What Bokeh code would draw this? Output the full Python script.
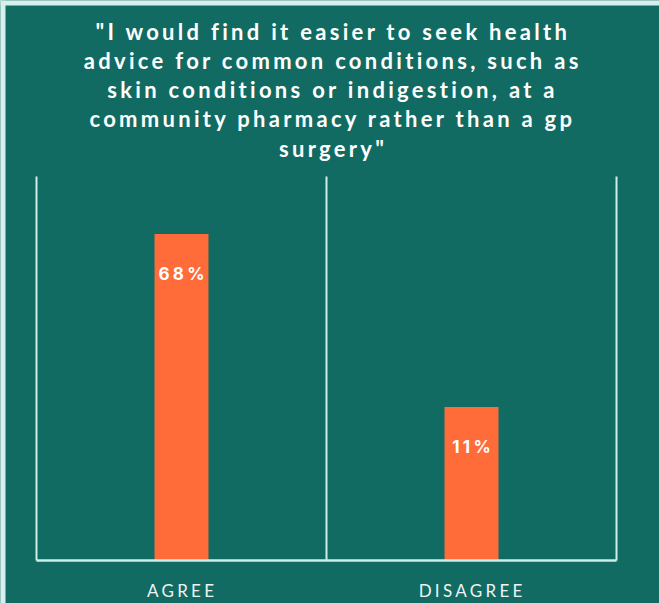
from bokeh.plotting import figure
from bokeh.models import Range1d, LabelSet, ColumnDataSource, BoxAnnotation
from bokeh.core.properties import value
from bokeh.embed import file_html
from bokeh.resources import INLINE

# ---- data ----
title_lines = [
    '"I would find it easier to seek health',
    'advice for common conditions, such as',
    'skin conditions or indigestion, at a',
    'community pharmacy rather than a gp',
    'surgery"',
]
categories = ["AGREE", "DISAGREE"]
bar_heights = [68, 32]
bar_labels = ["68%", "11%"]

# ---- style / layout ----
BG = "#116b62"
BAR = "#ff6c3a"
LINE = "#cdeee9"
EDGE = "#d6f1ed"
TXT = "#ffffff"
W, H = 659, 603
PLOT_L, PLOT_R, PLOT_T, PLOT_B = 36, 616, 176, 560   # plotting box, px
Y_MAX = 80
SP = 3.3                                              # letter spacing, px

n = len(categories)
px_x = (PLOT_R - PLOT_L) / n
px_y = (PLOT_B - PLOT_T) / Y_MAX
x_range = Range1d(-PLOT_L / px_x, n + (W - PLOT_R) / px_x)
y_range = Range1d(-(H - PLOT_B) / px_y, Y_MAX + PLOT_T / px_y)

p = figure(x_range=x_range, y_range=y_range,
           frame_width=W, frame_height=H, min_border=0,
           output_backend="svg", toolbar_location=None,
           background_fill_color=BG, border_fill_color=BG,
           outline_line_color=None)
p.styles = {"letter-spacing": f"{SP}px"}
p.xaxis.visible = False
p.yaxis.visible = False
p.xgrid.visible = False
p.ygrid.visible = False

# light page edge (left / top)
p.add_layout(BoxAnnotation(right=x_range.start + 5 / px_x, fill_color=EDGE,
                           fill_alpha=1, line_color=None))
p.add_layout(BoxAnnotation(bottom=y_range.end - 5 / px_y, fill_color=EDGE,
                           fill_alpha=1, line_color=None))

xs = [i + 0.5 for i in range(n)]
comp = lambda s: -(len(s) - 1) * SP / 2   # centre letter-spaced text

src = ColumnDataSource(dict(x=xs, cat=categories, h=bar_heights,
                            lab=bar_labels,
                            lab_dx=[comp(s) for s in bar_labels],
                            cat_dx=[comp(s) - 1 for s in categories]))

p.vbar(x="x", top="h", bottom=0, width=0.186, source=src,
       fill_color=BAR, line_color=None)

# vertical separators and baseline
bounds = list(range(n + 1))
p.segment(x0=bounds, x1=bounds, y0=[0] * len(bounds), y1=[Y_MAX] * len(bounds),
          line_color=LINE, line_width=2)
p.segment(x0=[0], x1=[n], y0=[0], y1=[0], line_color=LINE, line_width=2.5)

# value labels
p.add_layout(LabelSet(x="x", y="h", text="lab", source=src,
                      x_offset="lab_dx", y_offset=-46, text_align="center",
                      text_baseline="alphabetic", text_color=TXT,
                      text_font=value("Inter"), text_font_style="bold",
                      text_font_size="17px"))

# category labels
p.add_layout(LabelSet(x="x", y=0, text="cat", source=src,
                      x_offset="cat_dx", y_offset=-36, text_align="center",
                      text_baseline="alphabetic", text_color="#eef4f3",
                      text_font=value("Lato"), text_font_size="17px"))

# title
tsrc = ColumnDataSource(dict(
    t=title_lines,
    x=[n / 2] * len(title_lines),
    y=[Y_MAX] * len(title_lines),
    dx=[5 + comp(s) for s in title_lines],
    dy=[PLOT_T - 39 - i * 29.25 for i in range(len(title_lines))],
))
p.add_layout(LabelSet(x="x", y="y", text="t", source=tsrc,
                      x_offset="dx", y_offset="dy", text_align="center",
                      text_baseline="alphabetic", text_color=TXT,
                      text_font=value("Lato"), text_font_style="bold",
                      text_font_size="22px"))

open("out.html", "w").write(file_html(p, INLINE))
